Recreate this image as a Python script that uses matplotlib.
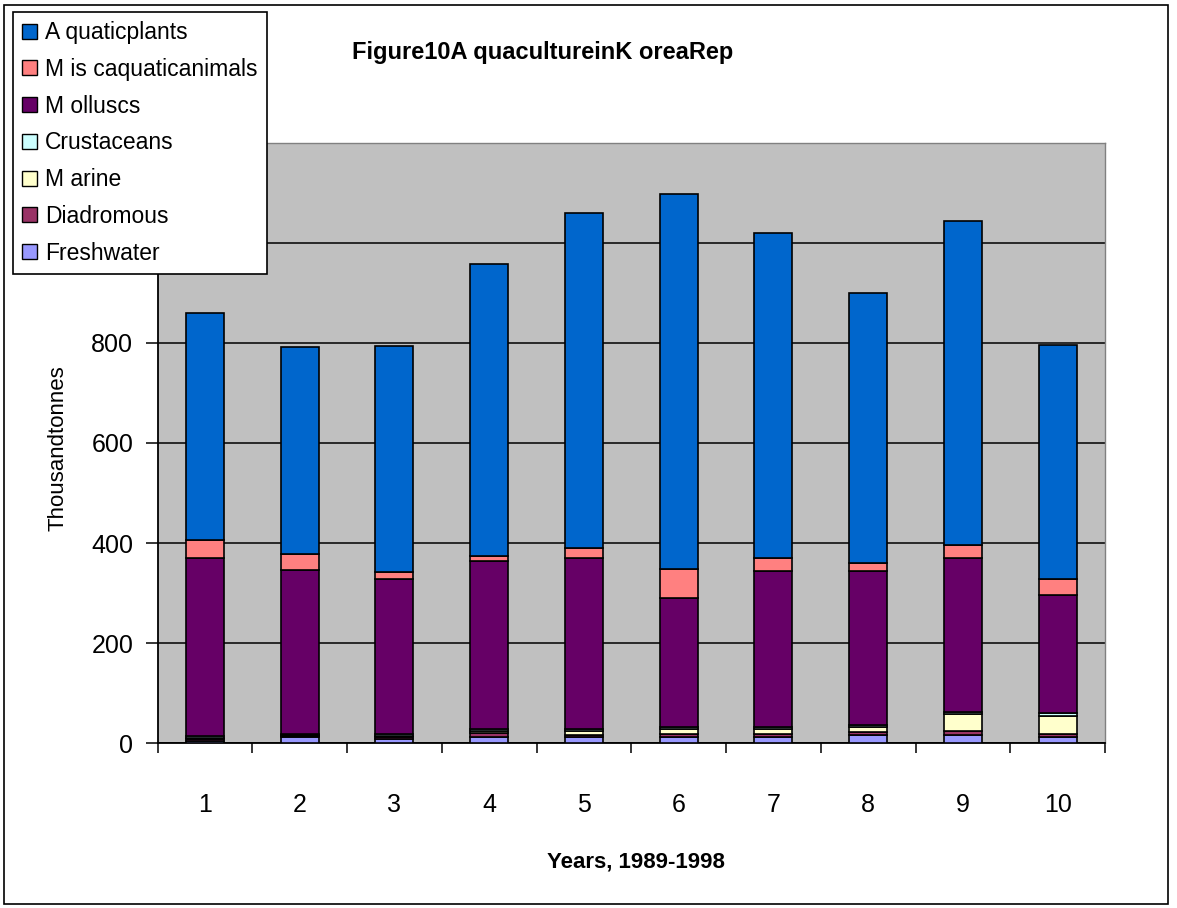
import numpy as np
import matplotlib
matplotlib.use("Agg")
import matplotlib.pyplot as plt
from matplotlib.patches import Patch, Rectangle

# Aquaculture output, thousand tonnes, one value per year (1989-1998)
years = [1, 2, 3, 4, 5, 6, 7, 8, 9, 10]
freshwater = [4, 12, 8, 12, 12, 12, 12, 17, 17, 12]
diadromous = [5, 3, 5, 8, 4, 7, 7, 6, 7, 7]
marine = [2, 1, 2, 4, 8, 9, 9, 9, 34, 36]
crustaceans = [3, 3, 3, 4, 4, 5, 5, 5, 5, 5]
molluscs = [357, 328, 310, 337, 343, 257, 312, 308, 308, 237]
misc_animals = [36, 32, 15, 10, 20, 58, 26, 15, 26, 32]
aquatic_plants = [453, 412, 450, 582, 669, 749, 649, 540, 646, 466]

# y tick labels; the top two sit under the legend box
y_ticks = [0, 200, 400, 600, 800, 1000, 1200]
y_labels = ["0", "200", "400", "600", "800", "", ""]

series = [
    ("Freshwater", freshwater, "#9999FF"),
    ("Diadromous", diadromous, "#993366"),
    ("M arine", marine, "#FFFFCC"),
    ("Crustaceans", crustaceans, "#CCFFFF"),
    ("M olluscs", molluscs, "#660066"),
    ("M is caquaticanimals", misc_animals, "#FF8080"),
    ("A quaticplants", aquatic_plants, "#0066CC"),
]

narrow = ["Liberation Sans Narrow", "Liberation Sans", "DejaVu Sans"]
plain = ["Liberation Sans", "DejaVu Sans"]

W, H = 1177, 908
fig = plt.figure(figsize=(W / 100, H / 100), dpi=100)
fig.patch.set_facecolor("white")

ax = fig.add_axes([157.5 / W, 1 - 743.3 / H, (1105 - 157.5) / W, (743.3 - 142.5) / H])
ax.set_facecolor("#C0C0C0")

# stacked bars, bottom to top
bottom = np.zeros(len(years))
for nom, vals, col in series:
    ax.bar(years, vals, width=0.4, bottom=bottom, color=col,
           edgecolor="black", linewidth=1.2, zorder=3)
    bottom += np.array(vals)

ax.set_xlim(0.5, 10.5)
ax.set_ylim(0, 1200)
ax.set_yticks(y_ticks)
ax.set_yticklabels(y_labels)
ax.yaxis.grid(True, color="black", linewidth=1.1, zorder=1)
ax.set_axisbelow(True)

# year labels in the middle, tick marks between the bars
ax.set_xticks(years)
ax.set_xticklabels([str(y) for y in years])
ax.set_xticks(np.arange(0.5, 11, 1), minor=True)
ax.tick_params(axis="x", which="major", length=0, pad=36)
ax.tick_params(axis="x", which="minor", length=7.5, width=1.1, direction="out")
ax.tick_params(axis="y", length=8.5, width=1.1, direction="out", pad=9)
for lab in ax.get_xticklabels() + ax.get_yticklabels():
    lab.set_family(narrow)
    lab.set_fontsize(18)

for s in ["left", "bottom"]:
    ax.spines[s].set_color("black")
    ax.spines[s].set_linewidth(1.3)
for s in ["top", "right"]:
    ax.spines[s].set_color("#808080")
    ax.spines[s].set_linewidth(1.0)

fig.text(543 / W, 1 - 53 / H, "Figure10A quacultureinK oreaRep", ha="center", va="center",
         fontsize=17, fontweight="bold", family=plain)
fig.text(636 / W, 1 - 862 / H, "Years, 1989-1998", ha="center", va="center",
         fontsize=16, fontweight="bold", family=narrow)
fig.text(58 / W, 1 - 448 / H, "Thousandtonnes", ha="center", va="center",
         rotation=90, fontsize=16, family=narrow)

# legend, top of the stack first
handles = [Patch(facecolor=col, edgecolor="black", linewidth=1.0, label=nom)
           for nom, vals, col in reversed(series)]
leg = fig.legend(handles=handles, loc="upper left",
                 bbox_to_anchor=(12.5 / W, 1 - 11.5 / H),
                 prop={"family": plain, "size": 16.5},
                 handlelength=0.63, handleheight=0.63, handletextpad=0.36,
                 labelspacing=0.6, borderpad=0.42, borderaxespad=0,
                 fancybox=False, framealpha=1, edgecolor="black")
leg.get_frame().set_linewidth(1.2)
leg.set_zorder(10)

# outer chart border
fig.patches.append(Rectangle((4 / W, 4 / H), 1164 / W, 899 / H, transform=fig.transFigure,
                             fill=False, edgecolor="black", linewidth=1.2))

fig.savefig("out.png", dpi=100)
